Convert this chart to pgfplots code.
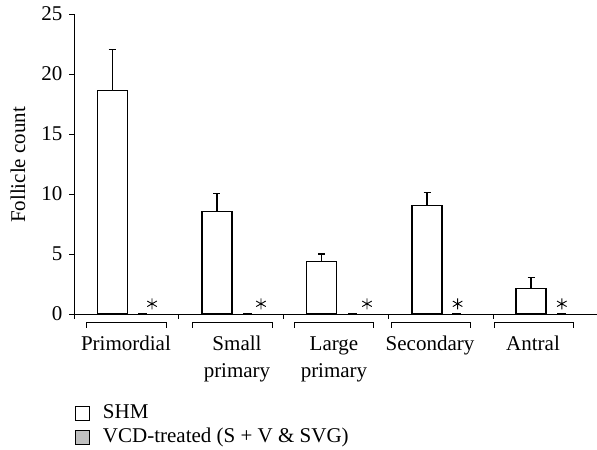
\documentclass[border=0pt]{standalone}
\usepackage{fontspec}
\setmainfont{Liberation Serif}
\usepackage{pgfplots}
\pgfplotsset{compat=1.18}
\pgfplotstableread{
x y e
-0.135 18.64 3.42
0.865 8.53 1.53
1.866 4.36 0.64
2.870 9.03 1.11
3.863 2.11 0.92
}\shm
\pgfplotstableread{
x y
0.155 0.07
1.155 0.07
2.155 0.07
3.155 0.07
4.155 0.07
}\vcd
\pgfplotstableread{
x y
0.245 0.85
1.285 0.85
2.297 0.85
3.162 0.85
4.157 0.85
}\stars
\begin{document}
\fontsize{21bp}{25bp}\selectfont
\begin{tikzpicture}
\begin{axis}[
  scale only axis, width=523.75bp, height=300bp,
  xmin=-0.5, xmax=4.5, ymin=0, ymax=25,
  axis x line*=bottom, axis y line*=left,
  axis line style={-, line width=0.9bp},
  xtick={-0.5,0.5,1.5,2.5,3.5,4.5}, xticklabels={},
  ytick={0,5,...,25},
  tick align=outside, major tick length=4.5bp,
  tick style={black, line width=0.9bp},
  /pgf/number format/assume math mode=true,
  yticklabel style={font=\fontsize{21bp}{25bp}\selectfont},
  ylabel={Follicle count},
  ylabel style={at={(axis description cs:-0.107,0.497)}, anchor=center, font=\fontsize{21bp}{25bp}\selectfont},
  clip=false,
  legend style={draw=none, fill=none, at={(axis description cs:-0.0038,-0.29)}, anchor=north west,
    font=\fontsize{21bp}{25bp}\selectfont, row sep=4.5bp,
    nodes={inner ysep=0bp, inner xsep=13bp, text height=15bp, text depth=5bp}},
  legend cell align=left,
  legend image code/.code={\draw[#1, line width=0.8bp] (0bp,-7bp) rectangle (14bp,7bp);},
]
\addplot[ybar, bar width=30bp, bar shift=0pt, fill=white, draw=black, line width=1.1bp,
  error bars/.cd, y dir=plus, y explicit,
  error bar style={line width=1.1bp},
  error mark options={rotate=90, mark size=3.5bp, line width=1.1bp}]
  table[x=x, y=y, y error=e] {\shm};
\addlegendentry{SHM}
\addplot[ybar, bar width=8bp, bar shift=0pt, fill=gray!50, draw=black, line width=1.1bp]
  table[x=x, y=y] {\vcd};
\addlegendentry{VCD-treated (S + V \& SVG)}
\addplot[only marks, mark=asterisk, mark size=5.5bp, mark options={line width=0.9bp, black}, forget plot] table[x=x, y=y] {\stars};
% brackets
\draw[line width=0.9bp] (axis cs:-0.379,-1.14) -- (axis cs:-0.379,-0.69) -- (axis cs:0.378,-0.69) -- (axis cs:0.378,-1.14);
\draw[line width=0.9bp] (axis cs:0.633,-1.14) -- (axis cs:0.633,-0.69) -- (axis cs:1.393,-0.69) -- (axis cs:1.393,-1.14);
\draw[line width=0.9bp] (axis cs:1.603,-1.14) -- (axis cs:1.603,-0.69) -- (axis cs:2.361,-0.69) -- (axis cs:2.361,-1.14);
\draw[line width=0.9bp] (axis cs:2.526,-1.14) -- (axis cs:2.526,-0.69) -- (axis cs:3.280,-0.69) -- (axis cs:3.280,-1.14);
\draw[line width=0.9bp] (axis cs:3.510,-1.14) -- (axis cs:3.510,-0.69) -- (axis cs:4.267,-0.69) -- (axis cs:4.267,-1.14);
\node[anchor=base] at (axis cs:-0.004,-3.0) {Primordial};
\node[anchor=base] at (axis cs:1.056,-3.0) {Small};
\node[anchor=base] at (axis cs:1.056,-5.25) {primary};
\node[anchor=base] at (axis cs:1.982,-3.0) {Large};
\node[anchor=base] at (axis cs:1.982,-5.25) {primary};
\node[anchor=base] at (axis cs:2.899,-3.0) {Secondary};
\node[anchor=base] at (axis cs:3.882,-3.0) {Antral};
\end{axis}
\pgfresetboundingbox
\path[use as bounding box] (-74bp,-136bp) rectangle (523bp,314bp);
\end{tikzpicture}
\end{document}
